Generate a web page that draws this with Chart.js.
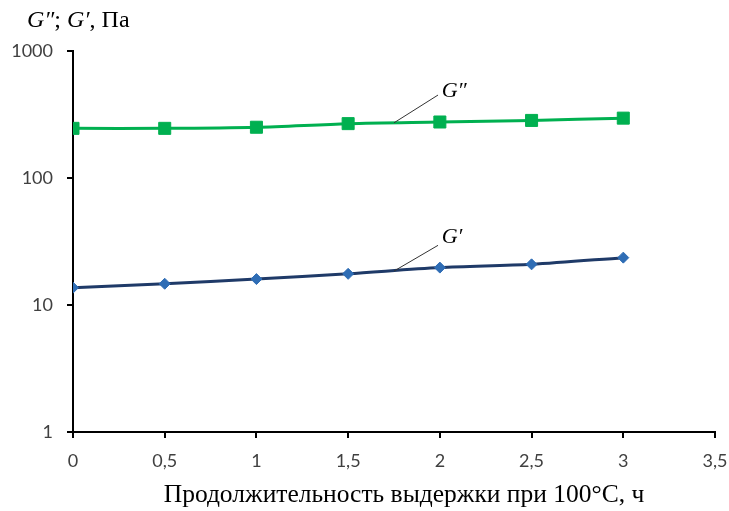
<!DOCTYPE html>
<html>
<head>
<meta charset="utf-8">
<script src="https://cdn.jsdelivr.net/npm/chart.js@4"></script>
<style>
  html, body { margin: 0; padding: 0; background: #fff; }
  canvas { display: block; }
</style>
</head>
<body>
<canvas id="chart" width="729" height="511"></canvas>
<script>
const hours = [0, 0.5, 1, 1.5, 2, 2.5, 3];
const gLoss = [246, 246, 251, 268, 276, 284, 296];      // G''
const gStorage = [13.7, 14.7, 16.0, 17.6, 19.7, 20.9, 23.6]; // G'
const yTicks = [1, 10, 100, 1000];
const xTitle = 'Продолжительность выдержки при 100°С, ч';

// leader labels in data units: text point and line start/end
const labels = [
    { text: 'G\u2033', tx: 2.01, ty: 480, x1: 1.75, y1: 272, x2: 1.99, y2: 450 },
    { text: 'G\u2032', tx: 2.01, ty: 34, x1: 1.75, y1: 18.5, x2: 1.99, y2: 29.5 }
];

const extras = {
    id: 'extras',
    afterDraw(chart) {
        const ctx = chart.ctx;
        const xs = chart.scales.x, ys = chart.scales.y;
        ctx.save();
        // leader lines and labels
        labels.forEach(l => {
            ctx.strokeStyle = '#333';
            ctx.lineWidth = 1;
            ctx.beginPath();
            ctx.moveTo(xs.getPixelForValue(l.x1), ys.getPixelForValue(l.y1));
            ctx.lineTo(xs.getPixelForValue(l.x2), ys.getPixelForValue(l.y2));
            ctx.stroke();
            ctx.fillStyle = '#000';
            ctx.font = 'italic 22px "Liberation Serif"';
            ctx.textBaseline = 'middle';
            ctx.fillText(l.text, xs.getPixelForValue(l.tx), ys.getPixelForValue(l.ty));
        });
        // unit title, top left
        ctx.textBaseline = 'alphabetic';
        let x = 27;
        const parts = [['italic', 'G\u2033'], ['normal', '; '], ['italic', 'G\u2032'], ['normal', ', Па']];
        parts.forEach(p => {
            ctx.font = p[0] + ' 24px "Liberation Serif"';
            ctx.fillText(p[1], x, 27);
            x += ctx.measureText(p[1]).width;
        });
        // axis title
        ctx.font = '25.5px "Liberation Serif"';
        ctx.textAlign = 'center';
        ctx.textBaseline = 'middle';
        ctx.fillText(xTitle, 404, 495);
        ctx.restore();
    }
};

new Chart(document.getElementById('chart'), {
    type: 'line',
    data: {
        labels: hours,
        datasets: [{
            label: "G''",
            data: hours.map((h, i) => ({ x: h, y: gLoss[i] })),
            borderColor: '#00B050',
            backgroundColor: '#00B050',
            borderWidth: 3,
            pointStyle: 'rect',
            pointRadius: 8.5,
            pointBorderWidth: 1,
            tension: 0.3
        }, {
            label: "G'",
            data: hours.map((h, i) => ({ x: h, y: gStorage[i] })),
            borderColor: '#1F3A68',
            backgroundColor: '#2F6DB5',
            pointBorderColor: '#2F6DB5',
            borderWidth: 3,
            pointStyle: 'rectRot',
            pointRadius: 5.5,
            pointBorderWidth: 1,
            tension: 0.3
        }]
    },
    options: {
        responsive: false,
        animation: false,
        layout: { padding: { top: 51, right: 14, left: 0, bottom: 0 } },
        plugins: { legend: { display: false }, tooltip: { enabled: false } },
        scales: {
            x: {
                type: 'linear',
                min: 0, max: 3.5,
                afterFit: s => { s.height = 79; s.paddingLeft = 0; s.paddingRight = 0; },
                ticks: {
                    stepSize: 0.5,
                    padding: 12,
                    color: '#404040',
                    font: { family: 'Lato', size: 18 },
                    callback: v => String(v).replace('.', ',')
                },
                grid: { drawOnChartArea: false, tickLength: 6, color: '#000', lineWidth: 2 },
                border: { color: '#000', width: 2 }
            },
            y: {
                type: 'logarithmic',
                min: 1, max: 1000,
                afterFit: s => { s.width = 73; s.paddingTop = 0; s.paddingBottom = 0; },
                afterBuildTicks: s => { s.ticks = yTicks.map(v => ({ value: v })); },
                ticks: {
                    padding: 14,
                    color: '#404040',
                    font: { family: 'Lato', size: 18 },
                    callback: v => String(v)
                },
                grid: { drawOnChartArea: false, tickLength: 6, color: '#000', lineWidth: 2 },
                border: { color: '#000', width: 2 }
            }
        }
    },
    plugins: [extras]
});
</script>
</body>
</html>
